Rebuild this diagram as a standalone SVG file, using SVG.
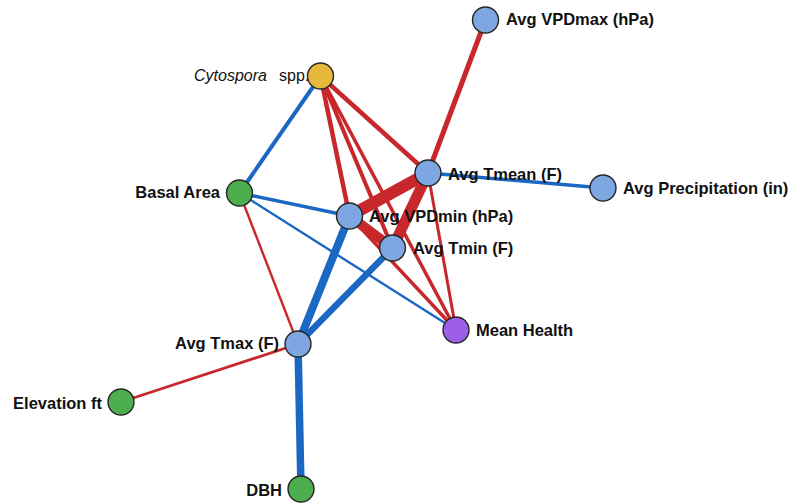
<svg xmlns="http://www.w3.org/2000/svg" width="792" height="504" viewBox="0 0 792 504">
  <style>
    .pos { stroke: #c8282b; fill: none; stroke-linecap: butt; }
    .neg { stroke: #1b68c4; fill: none; stroke-linecap: butt; }
    .node circle { stroke: #262626; stroke-width: 1.4; }
    .clim circle { fill: #7ea6e0; }
    .site circle { fill: #4cae4f; }
    .path circle { fill: #e6b83c; }
    .health circle { fill: #9d5fe6; }
    text { font-family: "Liberation Sans", Arial, sans-serif; font-size: 16.5px; font-weight: bold; fill: #111; }
    .it { font-weight: normal; font-size: 16px; }
  </style>
  <rect width="792" height="504" fill="#ffffff"/>

  <g id="edges">
    <!-- negative associations -->
    <line class="neg" x1="320.5" y1="76" x2="239.5" y2="193" stroke-width="4"/>
    <line class="neg" x1="239.5" y1="193" x2="349.5" y2="216" stroke-width="3.5"/>
    <line class="neg" x1="239.5" y1="193" x2="456" y2="330" stroke-width="2.4"/>
    <line class="neg" x1="428" y1="173" x2="603" y2="188" stroke-width="3.5"/>
    <line class="neg" x1="349.5" y1="216" x2="298" y2="344" stroke-width="8"/>
    <line class="neg" x1="392.5" y1="248" x2="298" y2="344" stroke-width="6.5"/>
    <line class="neg" x1="298" y1="344" x2="301" y2="489" stroke-width="7.5"/>
    <!-- positive associations -->
    <line class="pos" x1="485.5" y1="20" x2="428" y2="173" stroke-width="5"/>
    <line class="pos" x1="320.5" y1="76" x2="428" y2="173" stroke-width="4.5"/>
    <line class="pos" x1="320.5" y1="76" x2="349.5" y2="216" stroke-width="4.5"/>
    <line class="pos" x1="320.5" y1="76" x2="392.5" y2="248" stroke-width="4"/>
    <line class="pos" x1="320.5" y1="76" x2="456" y2="330" stroke-width="3.5"/>
    <line class="pos" x1="349.5" y1="216" x2="456" y2="330" stroke-width="3.5"/>
    <line class="pos" x1="428" y1="173" x2="456" y2="330" stroke-width="3"/>
    <line class="pos" x1="428" y1="173" x2="349.5" y2="216" stroke-width="12"/>
    <line class="pos" x1="428" y1="173" x2="392.5" y2="248" stroke-width="11"/>
    <line class="pos" x1="349.5" y1="216" x2="392.5" y2="248" stroke-width="10"/>
    <line class="pos" x1="239.5" y1="193" x2="298" y2="344" stroke-width="2.4"/>
    <line class="pos" x1="121" y1="402" x2="298" y2="344" stroke-width="2.8"/>
  </g>

  <g id="n-cytospora" class="node path">
    <text x="194" y="81" class="it"><tspan font-style="italic">Cytospora</tspan><tspan x="279">spp.</tspan></text>
    <circle cx="320.5" cy="76" r="13"/>
  </g>
  <g id="n-vpdmax" class="node clim">
    <circle cx="485.5" cy="20" r="13"/>
    <text x="506" y="25">Avg VPDmax (hPa)</text>
  </g>
  <g id="n-tmean" class="node clim">
    <circle cx="428" cy="173" r="13"/>
    <text x="448" y="180">Avg Tmean (F)</text>
  </g>
  <g id="n-precip" class="node clim">
    <circle cx="603" cy="188" r="13"/>
    <text x="623" y="194">Avg Precipitation (in)</text>
  </g>
  <g id="n-basal" class="node site">
    <circle cx="239.5" cy="193" r="13"/>
    <text x="220" y="198" text-anchor="end">Basal Area</text>
  </g>
  <g id="n-vpdmin" class="node clim">
    <circle cx="349.5" cy="216" r="13"/>
    <text x="369" y="222">Avg VPDmin (hPa)</text>
  </g>
  <g id="n-tmin" class="node clim">
    <circle cx="392.5" cy="248" r="13"/>
    <text x="413" y="254">Avg Tmin (F)</text>
  </g>
  <g id="n-health" class="node health">
    <circle cx="456" cy="330" r="13"/>
    <text x="476" y="336">Mean Health</text>
  </g>
  <g id="n-tmax" class="node clim">
    <text x="279" y="349" text-anchor="end">Avg Tmax (F)</text>
    <circle cx="298" cy="344" r="13"/>
  </g>
  <g id="n-elev" class="node site">
    <circle cx="121" cy="402" r="13"/>
    <text x="102" y="409" text-anchor="end">Elevation ft</text>
  </g>
  <g id="n-dbh" class="node site">
    <circle cx="301" cy="489" r="13"/>
    <text x="282" y="496" text-anchor="end">DBH</text>
  </g>
</svg>
